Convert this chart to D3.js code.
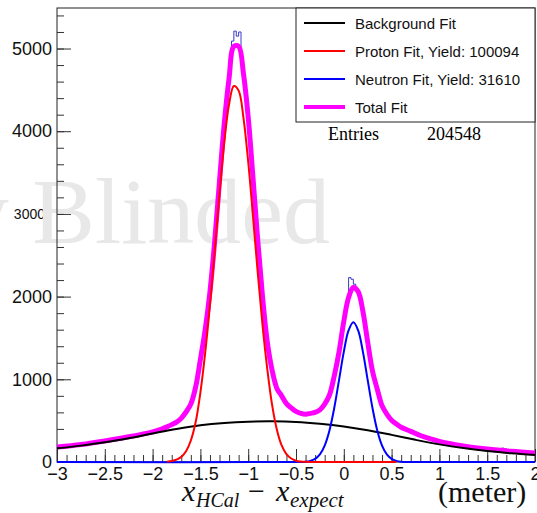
<!DOCTYPE html>
<html>
<head>
<meta charset="utf-8">
<script src="https://cdn.jsdelivr.net/npm/d3@7"></script>
<style>
  html, body { margin: 0; padding: 0; background: #fff; }
  svg { display: block; }
</style>
</head>
<body>
<div id="chart"></div>
<script>
// histogram, 200 bins of 0.025 from -3 to 2
const histStart = -3;
const histBinWidth = 0.025;
const histCounts = [
  172, 186, 180, 191, 184, 197, 193, 204, 199, 210,
  209, 221, 216, 228, 224, 236, 231, 246, 258, 249,
  256, 251, 268, 262, 278, 271, 287, 279, 296, 290,
  303, 315, 309, 322, 318, 337, 330, 342, 351, 362,
  371, 369, 386, 389, 409, 414, 437, 441, 466, 470,
  495, 512, 551, 590, 622, 680, 745, 820, 985, 1160,
  1345, 1490, 1730, 1925, 2230, 2490, 2880, 3190, 3610, 3900,
  4250, 4490, 4790, 5090, 5210, 5150, 5200, 4900, 4620, 4310,
  3960, 3650, 3230, 2890, 2480, 2180, 1840, 1600, 1330, 1200,
  1040, 960, 850, 830, 770, 745, 690, 676, 638, 630,
  598, 606, 590, 574, 586, 571, 597, 603, 598, 628,
  655, 672, 735, 768, 870, 948, 1120, 1240, 1450, 1590,
  1790, 1910, 2230, 2210, 2150, 2080, 2030, 1880, 1760, 1530,
  1380, 1170, 1060, 915, 845, 720, 672, 598, 570, 515,
  488, 476, 445, 436, 405, 410, 383, 372, 359, 362,
  340, 322, 320, 298, 300, 281, 284, 262, 268, 250,
  243, 246, 231, 233, 220, 223, 209, 212, 199, 201,
  190, 194, 180, 184, 172, 176, 166, 170, 158, 163,
  154, 157, 148, 150, 141, 146, 168, 160, 131, 134,
  127, 130, 120, 124, 116, 119, 112, 116, 107, 111
];

// background fit (black)
const bgX = [-3, -2.75, -2.5, -2.25, -2, -1.75, -1.5, -1.25, -1, -0.75, -0.5,
  -0.25, 0, 0.25, 0.5, 0.75, 1, 1.25, 1.5, 1.75, 2];
const bgY = [165, 198, 238, 288, 345, 400, 445, 473, 488, 492, 485,
  463, 430, 384, 328, 268, 213, 168, 133, 106, 86];

// proton fit (red)
const protonX = [-1.85, -1.8, -1.75, -1.7, -1.65, -1.6, -1.55, -1.5, -1.45, -1.4,
  -1.35, -1.3, -1.25, -1.2, -1.15, -1.1, -1.05, -1, -0.95, -0.9, -0.85, -0.8,
  -0.75, -0.7, -0.65, -0.6, -0.55, -0.5, -0.45, -0.4, -0.35, 0.55];
const protonY = [4, 12, 28, 62, 130, 260, 480, 840, 1319, 1896,
  2559, 3245, 3865, 4326, 4546, 4491, 4166, 3631, 2973, 2286, 1652, 1121,
  690, 390, 200, 95, 42, 16, 6, 2, 0, 0];

// neutron fit (blue)
const neutronX = [-3, -0.45, -0.4, -0.35, -0.3, -0.25, -0.2, -0.15, -0.1, -0.05, 0,
  0.05, 0.1, 0.15, 0.2, 0.25, 0.3, 0.35, 0.4, 0.45, 0.5, 0.55, 0.6, 0.65, 2];
const neutronY = [0, 1, 4, 14, 38, 92, 199, 382, 653, 990, 1332,
  1592, 1690, 1592, 1332, 990, 653, 382, 199, 92, 38, 14, 4, 1, 0];

// total fit (magenta)
const totalX = [-3, -2.75, -2.5, -2.25, -2, -1.9, -1.85, -1.8, -1.75, -1.7, -1.65,
  -1.6, -1.55, -1.5, -1.45, -1.4, -1.35, -1.3, -1.25, -1.2, -1.15, -1.1, -1.05,
  -1, -0.95, -0.9, -0.85, -0.8, -0.75, -0.7, -0.65, -0.6, -0.55, -0.5, -0.45,
  -0.4, -0.35, -0.3, -0.25, -0.2, -0.15, -0.1, -0.05, 0, 0.05, 0.1, 0.15, 0.2,
  0.25, 0.3, 0.35, 0.4, 0.45, 0.5, 0.55, 0.6, 0.7, 0.8, 0.9, 1, 1.25, 1.5, 1.75, 2];
const totalY = [180, 212, 255, 305, 365, 400, 425, 452, 482, 530, 605,
  700, 905, 1240, 1600, 2060, 2680, 3400, 4100, 4640, 5025, 5025, 4700,
  4170, 3440, 2680, 2000, 1450, 1110, 890, 800, 705, 655, 612, 588,
  578, 588, 600, 630, 700, 810, 1040, 1330, 1700, 1990, 2110, 2060, 1820,
  1450, 1100, 880, 680, 580, 505, 460, 420, 370, 320, 282, 250, 195, 158, 130, 108];

const xTicks = [-3, -2.5, -2, -1.5, -1, -0.5, 0, 0.5, 1, 1.5, 2];
const xTickLabels = ["\u22123", "\u22122.5", "\u22122", "\u22121.5", "\u22121", "\u22120.5", "0", "0.5", "1", "1.5", "2"];
const yTicks = [0, 1000, 2000, 3000, 4000, 5000];
const yTickLabels = ["0", "1000", "2000", "3000", "4000", "5000"];

const legendLabels = ["Background Fit", "Proton Fit, Yield: 100094", "Neutron Fit, Yield: 31610", "Total Fit"];
const legendColors = ["#000000", "#ff0000", "#0000ff", "#ff00ff"];
const entries = 204548;

const W = 537, H = 513;
const sans = "'Liberation Sans', Arial, Helvetica, sans-serif";
const serif = "'Liberation Serif', 'Times New Roman', serif";

const svg = d3.select("#chart").append("svg")
  .attr("width", W)
  .attr("height", H);

const x = d3.scaleLinear().domain([-3, 2]).range([57, 535]);
const y = d3.scaleLinear().domain([0, 5490]).range([462, 8]);

// tick labels first (the watermark sits over them)
const xAxis = svg.append("g")
  .attr("transform", `translate(0,${y(0)})`)
  .call(d3.axisBottom(x).tickValues(xTicks).tickSize(-13).tickPadding(5)
    .tickFormat((d, i) => xTickLabels[i]));
xAxis.select(".domain").remove();
xAxis.selectAll("line").attr("stroke", "#333");
xAxis.selectAll("text").attr("font-family", sans).attr("font-size", 18).attr("fill", "#111");

const yAxis = svg.append("g")
  .attr("transform", `translate(${x(-3)},0)`)
  .call(d3.axisLeft(y).tickValues(yTicks).tickSize(-14).tickPadding(5)
    .tickFormat((d, i) => yTickLabels[i]));
yAxis.select(".domain").remove();
yAxis.selectAll("line").attr("stroke", "#333");
yAxis.selectAll("text").attr("font-family", sans).attr("font-size", 18).attr("fill", "#111");
yAxis.selectAll("text").filter(d => d === 3000).attr("font-size", 14).attr("x", -12);

// watermark
svg.append("text")
  .attr("x", 330)
  .attr("y", 243)
  .attr("text-anchor", "end")
  .attr("font-family", serif)
  .attr("font-size", 94)
  .attr("fill", "#e8e8e8")
  .text("Preliminary Blinded");

// frame and minor ticks
svg.append("rect")
  .attr("x", x(-3)).attr("y", y(5490))
  .attr("width", x(2) - x(-3)).attr("height", y(0) - y(5490))
  .attr("fill", "none").attr("stroke", "#222").attr("stroke-width", 1);

const xMinor = svg.append("g")
  .attr("transform", `translate(0,${y(0)})`)
  .call(d3.axisBottom(x).tickValues(d3.range(-3, 2.001, 0.1)).tickSize(-7).tickFormat(""));
xMinor.select(".domain").remove();
xMinor.selectAll("line").attr("stroke", "#333");

const yMinor = svg.append("g")
  .attr("transform", `translate(${x(-3)},0)`)
  .call(d3.axisLeft(y).tickValues(d3.range(0, 5401, 200)).tickSize(-7).tickFormat(""));
yMinor.select(".domain").remove();
yMinor.selectAll("line").attr("stroke", "#333");

// plot area
svg.append("clipPath").attr("id", "clip")
  .append("rect")
  .attr("x", x(-3)).attr("y", y(5490))
  .attr("width", x(2) - x(-3)).attr("height", y(0) - y(5490) + 3);

const plot = svg.append("g").attr("clip-path", "url(#clip)");

const histPts = histCounts.map((c, i) => [histStart + i * histBinWidth, c]);
histPts.push([2, histCounts[histCounts.length - 1]]);
plot.append("path")
  .attr("d", d3.line().x(d => x(d[0])).y(d => y(d[1])).curve(d3.curveStepAfter)(histPts))
  .attr("fill", "none")
  .attr("stroke", "#3a3ac8")
  .attr("stroke-width", 1);

const fitLine = d3.line()
  .x(d => x(d[0]))
  .y(d => y(d[1]))
  .curve(d3.curveCatmullRom.alpha(0.5));

function drawFit(xs, ys, color, width) {
  plot.append("path")
    .attr("d", fitLine(xs.map((v, i) => [v, ys[i]])))
    .attr("fill", "none")
    .attr("stroke", color)
    .attr("stroke-width", width)
    .attr("stroke-linejoin", "round");
}

drawFit(totalX, totalY, "#ff00ff", 5);
drawFit(bgX, bgY, "#000000", 2);
drawFit(neutronX, neutronY, "#0000ff", 2);
drawFit(protonX, protonY, "#ff0000", 2);

// stats
svg.append("text")
  .attr("x", 328).attr("y", 140)
  .attr("font-family", serif).attr("font-size", 18)
  .text("Entries");
svg.append("text")
  .attr("x", 427).attr("y", 140)
  .attr("font-family", serif).attr("font-size", 18)
  .text(entries);

// legend
const legend = svg.append("g");
legend.append("rect")
  .attr("x", 296).attr("y", 8)
  .attr("width", 239).attr("height", 114)
  .attr("fill", "#fff").attr("stroke", "#222").attr("stroke-width", 1);

legendLabels.forEach((label, i) => {
  const cy = 23 + i * 28;
  legend.append("line")
    .attr("x1", 304).attr("x2", 345)
    .attr("y1", cy).attr("y2", cy)
    .attr("stroke", legendColors[i])
    .attr("stroke-width", i === 3 ? 4 : 2);
  legend.append("text")
    .attr("x", 355).attr("y", cy + 5.5)
    .attr("font-family", sans).attr("font-size", 15)
    .attr("fill", "#111")
    .text(label);
});

// x-axis title
const title = svg.append("text")
  .attr("y", 501)
  .attr("font-family", serif)
  .attr("font-size", 30)
  .attr("fill", "#111");
title.append("tspan").attr("x", 182).attr("font-style", "italic").text("x");
title.append("tspan").attr("x", 196).attr("dy", 6).attr("font-style", "italic").attr("font-size", 20).text("HCal");
title.append("tspan").attr("x", 248).attr("dy", -6).text("\u2212");
title.append("tspan").attr("x", 276).attr("font-style", "italic").text("x");
title.append("tspan").attr("x", 290).attr("dy", 6).attr("font-style", "italic").attr("font-size", 21).text("expect");
title.append("tspan").attr("x", 438).attr("dy", -5).text("(meter)");
</script>
</body>
</html>
